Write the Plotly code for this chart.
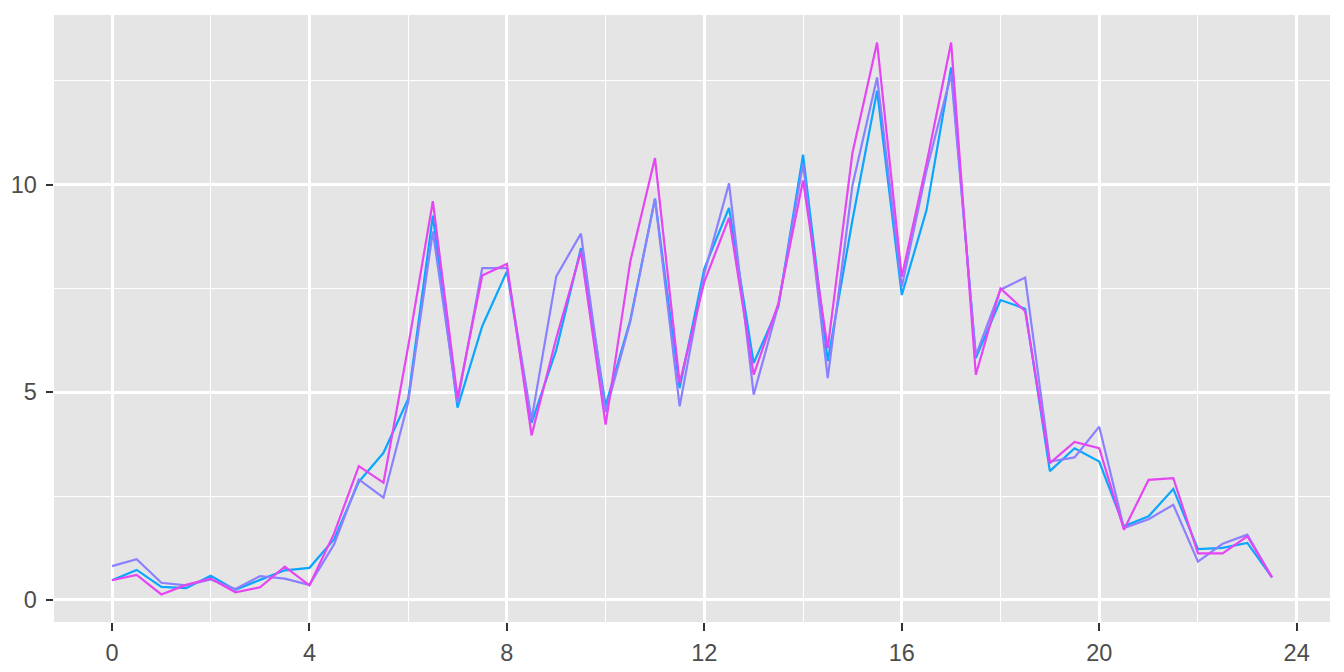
import plotly.graph_objects as go

hours = [i * 0.5 for i in range(48)]

series_a = [0.47, 0.72, 0.31, 0.28, 0.58, 0.24, 0.48, 0.71, 0.77, 1.46, 2.84, 3.54,
            4.84, 9.25, 4.63, 6.59, 7.91, 4.26, 6.02, 8.47, 4.68, 6.74, 9.66, 5.10,
            7.98, 9.44, 5.70, 7.06, 10.72, 5.75, 9.14, 12.26, 7.34, 9.38, 12.82, 5.82,
            7.22, 7.01, 3.10, 3.65, 3.33, 1.77, 2.01, 2.67, 1.22, 1.25, 1.37, 0.54]

series_b = [0.81, 0.98, 0.41, 0.35, 0.49, 0.26, 0.57, 0.51, 0.36, 1.34, 2.90, 2.46,
            4.76, 8.87, 4.75, 7.99, 7.99, 4.34, 7.79, 8.82, 4.52, 6.70, 9.66, 4.66,
            7.86, 10.03, 4.94, 7.10, 10.50, 5.34, 9.98, 12.58, 7.54, 10.34, 12.66, 5.88,
            7.47, 7.76, 3.33, 3.43, 4.17, 1.73, 1.94, 2.29, 0.92, 1.35, 1.57, 0.54]

series_c = [0.47, 0.60, 0.13, 0.36, 0.51, 0.18, 0.30, 0.80, 0.35, 1.60, 3.22, 2.82,
            6.10, 9.60, 4.86, 7.81, 8.09, 3.96, 6.30, 8.39, 4.22, 8.15, 10.64, 5.22,
            7.66, 9.20, 5.42, 7.14, 10.10, 6.06, 10.76, 13.42, 7.78, 10.50, 13.42, 5.42,
            7.50, 6.95, 3.29, 3.80, 3.65, 1.69, 2.89, 2.93, 1.12, 1.12, 1.53, 0.54]

colors = ["#0AA6FF", "#8B80FF", "#E645F3"]

fig = go.Figure()
for ys, c in zip([series_a, series_b, series_c], colors):
    fig.add_trace(go.Scatter(x=hours, y=ys, mode="lines",
                             line=dict(color=c, width=2.2), showlegend=False,
                             hoverinfo="x+y"))

all_y = series_a + series_b + series_c
ymin, ymax = min(all_y), max(all_y)
yexp = (ymax - ymin) * 0.05
xmin, xmax = min(hours), max(hours)
xexp = (xmax - xmin) * 0.05

axis_common = dict(
    showgrid=True, gridcolor="white", gridwidth=2.7,
    zeroline=False, showline=False, automargin=False,
    ticks="outside", ticklen=7.5, tickwidth=2.4, tickcolor="#333333",
    tickfont=dict(family="Liberation Sans, Arial, sans-serif", size=23.5, color="#4D4D4D"),
)

fig.update_layout(
    width=1344, height=672,
    margin=dict(l=54, r=14, t=15, b=50, autoexpand=False),
    paper_bgcolor="white", plot_bgcolor="#E5E5E5",
    xaxis=dict(range=[xmin - xexp, xmax + xexp], tick0=0, dtick=4, ticklabelstandoff=2,
               minor=dict(dtick=2, tick0=0, showgrid=True, gridcolor="white", gridwidth=1.4, ticks=""),
               **axis_common),
    yaxis=dict(range=[ymin - yexp, ymax + yexp], tick0=0, dtick=5, ticklabelstandoff=4,
               minor=dict(dtick=2.5, tick0=0, showgrid=True, gridcolor="white", gridwidth=1.4, ticks=""),
               **axis_common),
)

fig.write_html("out.html", config={"displayModeBar": False},
               post_script="document.body.style.margin='0';document.body.style.padding='0';")
